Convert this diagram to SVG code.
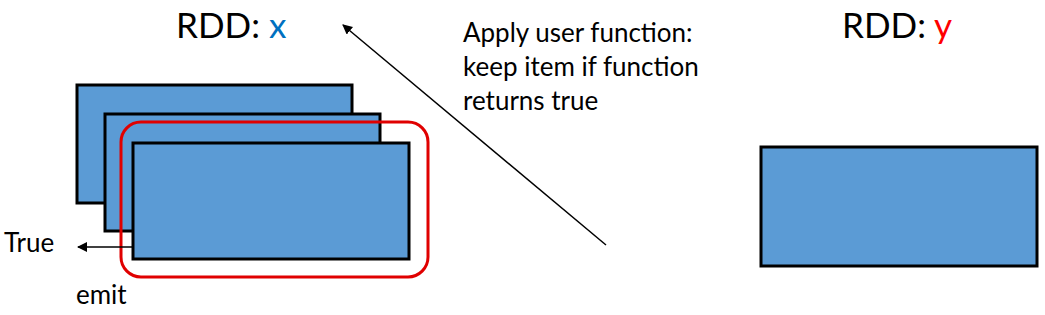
<svg xmlns="http://www.w3.org/2000/svg" width="1045" height="315" viewBox="0 0 1045 315">
<style>
text{font-family:Lato,"Open Sans","Liberation Sans",sans-serif;fill:#000}
.part{fill:#5B9BD5;stroke:#000;stroke-width:3}
.title{font-size:35px}
.lbl{font-size:26px}
.conn{stroke:#000;stroke-width:1.5;fill:none}
</style>
<defs>
<marker id="ah" viewBox="0 0 10 10" refX="9" refY="5" markerWidth="10" markerHeight="10" markerUnits="userSpaceOnUse" orient="auto">
<path d="M0,0 L10,5 L0,10 z" fill="#000"/>
</marker>
</defs>
<rect width="1045" height="315" fill="#fff"/>
<g id="rdd-x-title"><text class="title" x="176" y="38">RDD: <tspan fill="#0070C0">x</tspan></text></g>
<g id="rdd-y-title"><text class="title" x="842" y="38">RDD: <tspan fill="#FF0000">y</tspan></text></g>
<g id="partition-1"><rect class="part" x="77" y="85" width="275" height="118"/></g>
<g id="partition-2"><rect class="part" x="105" y="114" width="275" height="117"/></g>
<g id="partition-3"><rect class="part" x="133" y="143" width="276" height="116"/></g>
<g id="filter-highlight"><rect x="121" y="122" width="307" height="155" rx="20" fill="none" stroke="#E00000" stroke-width="3"/></g>
<g id="partition-y"><rect class="part" x="761" y="147" width="276" height="119"/></g>
<g id="note"><text class="lbl"><tspan x="463" y="42">Apply user function:</tspan><tspan x="463" y="76">keep item if function</tspan><tspan x="463" y="110">returns true</tspan></text></g>
<g id="true-label"><text class="lbl" x="4" y="252">True</text></g>
<g id="emit-label"><text class="lbl" x="76" y="304">emit</text></g>
<g id="connectors">
<line class="conn" x1="606" y1="245" x2="343" y2="25" marker-end="url(#ah)"/>
<line class="conn" x1="133" y1="247" x2="78" y2="247" marker-end="url(#ah)"/>
</g>
</svg>
